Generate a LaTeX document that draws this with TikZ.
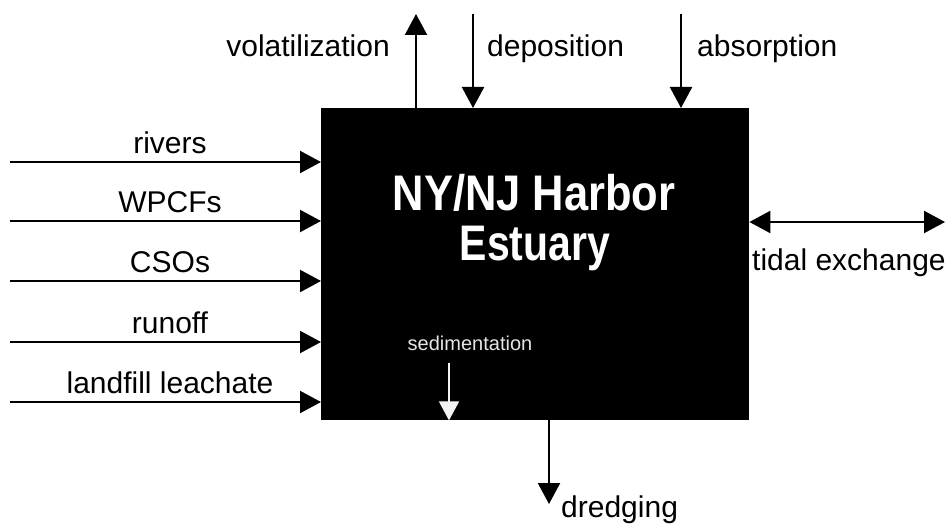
\documentclass[tikz,border=0pt]{standalone}
\usepackage{fontspec}
\setmainfont{Liberation Sans}
\usetikzlibrary{arrows.meta}

\begin{document}
\begin{tikzpicture}[x=1pt,y=-1pt,
  flow/.style={line width=2.2pt, -{Triangle[length=21pt,width=22pt]}},
  twoway/.style={line width=2.2pt, {Triangle[length=21pt,width=22pt]}-{Triangle[length=21pt,width=22pt]}},
  lbl/.style={font=\fontsize{30}{32}\selectfont, inner sep=0pt},
  inlbl/.style={lbl, anchor=base},
  title/.style={font=\fontsize{50}{52}\bfseries\selectfont, text=white, inner sep=0pt, anchor=base},
  pool/.style={fill=black, inner sep=0pt, minimum width=428pt, minimum height=312pt, anchor=north west}
]
\useasboundingbox (0,0) rectangle (949,524);

% the estuary box
\node[pool] (est) at (321,108) {};
\node[title] (t1) at (534,210) {\scalebox{0.87}[1]{NY/NJ Harbor}};
\node[title] (t2) at (535,260) {\scalebox{0.82}[1]{Estuary}};

% loadings entering from the left
\foreach \name/\txt/\y in {riv/rivers/162, wpc/WPCFs/221, cso/CSOs/281, run/runoff/342, lfl/landfill leachate/402}{
  \coordinate (\name-s) at (10,\y);
  \draw[flow] (\name-s) -- (est.west |- \name-s);
  \node[inlbl] (\name-l) at (170,\y-9) {\txt};
}

% atmospheric exchange
\coordinate (vol-e) at (416,14);
\coordinate (dep-s) at (473,14);
\coordinate (abs-s) at (681,14);
\draw[flow] (est.north -| vol-e) -- (vol-e);
\draw[flow] (dep-s) -- (est.north -| dep-s);
\draw[flow] (abs-s) -- (est.north -| abs-s);
\node[lbl, anchor=base east] (vol-l) at (390,57) {volatilization};
\node[lbl, anchor=base west] (dep-l) at (487,57) {deposition};
\node[lbl, anchor=base west] (abs-l) at (697,57) {absorption};

% tidal exchange with the open sea
\coordinate (tid-e) at (945,222);
\draw[twoway] (est.east |- tid-e) -- (tid-e);
\node[lbl, anchor=base west] (tid-l) at (752,270) {tidal exchange};

% sedimentation inside the box
\coordinate (sed-s) at (449,363);
\node[font=\fontsize{20}{22}\selectfont, text=white!90!black, inner sep=0pt, anchor=base] (sed-l) at (470,350) {sedimentation};
\draw[white!95!black, line width=1.6pt, -{Triangle[length=19pt,width=20pt]}] (sed-s) -- (est.south -| sed-s);

% dredging out of the bottom
\coordinate (dre-e) at (549,504);
\draw[flow] (est.south -| dre-e) -- (dre-e);
\node[lbl, anchor=base west] (dre-l) at (561,517) {dredging};
\end{tikzpicture}
\end{document}
